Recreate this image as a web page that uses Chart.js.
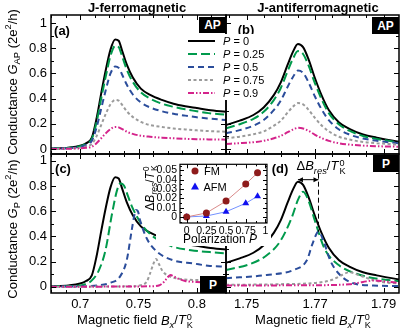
<!DOCTYPE html>
<html>
<head>
<meta charset="utf-8">
<script src="https://cdn.jsdelivr.net/npm/chart.js@4.4.1/dist/chart.umd.min.js"></script>
<style>
  body { margin: 0; background: #fff; }
  #fig { position: relative; width: 401px; height: 332px; overflow: hidden; font-family: "Liberation Sans", Arial, sans-serif; color: #000; }
  #fig canvas { position: absolute; left: 0; top: 0; }
  .t { position: absolute; white-space: nowrap; line-height: 1; transform: translate(-50%, -50%); }
  .rot { transform: translate(-50%, -50%) rotate(-90deg); }
  .b { font-weight: bold; font-size: 13px; }
  .box { position: absolute; background: #000; color: #fff; font-weight: bold; font-size: 12px; display: flex; align-items: center; justify-content: center; }
  sub, sup { font-size: 72%; line-height: 0; }
  .ss { display: inline-flex; flex-direction: column; font-size: 70%; line-height: 0.9; vertical-align: 0.5em; margin-left: 1px; }
  #inset { position: absolute; left: 156px; top: 155px; width: 115px; height: 91px; background: #fff; }
  #inset canvas { position: absolute; left: 0; top: 0; }
  #leg { position: absolute; left: 186px; top: 34px; width: 80px; height: 66px; background: #fff; }
</style>
</head>
<body>
<div id="fig">
  <canvas id="ca" width="401" height="332"></canvas>
  <canvas id="cb" width="401" height="332"></canvas>
  <canvas id="cc" width="401" height="332"></canvas>
  <canvas id="cd" width="401" height="332"></canvas>
  <div id="inset"><canvas id="ci" width="115" height="91"></canvas></div>

  <div class="t b" style="left:137px;top:7px">J-ferromagnetic</div>
  <div class="t b" style="left:318px;top:7px">J-antiferromagnetic</div>
  <div class="t rot" style="left:12px;top:82px;font-size:13px">Conductance <i>G</i><sub>AP</sub> (2e<sup>2</sup>/h)</div>
  <div class="t rot" style="left:12px;top:229px;font-size:13px">Conductance <i>G</i><sub>P</sub> (2e<sup>2</sup>/h)</div>
  <div class="t" style="left:135px;top:321px;font-size:13px">Magnetic field <i>B<sub>x</sub></i>/<i>T</i><span class="ss"><span>0</span><span>K</span></span></div>
  <div class="t" style="left:313px;top:321px;font-size:13px">Magnetic field <i>B<sub>x</sub></i>/<i>T</i><span class="ss"><span>0</span><span>K</span></span></div>

  <div class="t b" style="left:62px;top:30px">(a)</div>
  <div class="t b" style="left:246px;top:29px">(b)</div>
  <div class="t b" style="left:63px;top:168px">(c)</div>
  <div class="t b" style="left:280px;top:168px">(d)</div>

  <div class="box" style="left:199px;top:17px;width:27px;height:16px">AP</div>
  <div class="box" style="left:372px;top:17px;width:27px;height:17px">AP</div>
  <div class="box" style="left:200px;top:276px;width:26px;height:17px">P</div>
  <div class="box" style="left:373px;top:155px;width:26px;height:17px">P</div>

  <div class="t" style="left:321px;top:167px;font-size:13px">&Delta;<i>B</i><sub><i>res</i></sub>/<i>T</i><span class="ss"><span>0</span><span>K</span></span></div>

  <div class="t rot" style="left:151px;top:188px;font-size:12px">&Delta;<i>B</i><sub><i>res</i></sub>/<i>T</i><span class="ss"><span>0</span><span>K</span></span></div>
  <div class="t" style="left:220px;top:239px;font-size:12px">Polarization <i>P</i></div>
  <div id="insetLeg"></div>

  <div id="leg"></div>
</div>

<script>
const FONT = '"Liberation Sans", Arial, sans-serif';

// polarization values of the five curves
const polarization = [0, 0.25, 0.5, 0.75, 0.9];

// (a) J-ferromagnetic, AP configuration
const apFerroField = [0.675, 0.69, 0.70, 0.705, 0.71, 0.714, 0.718, 0.722, 0.726, 0.730, 0.733, 0.736, 0.740, 0.745, 0.752, 0.76, 0.77, 0.78, 0.79, 0.80, 0.81, 0.825];
const apFerroP0   = [0.003, 0.01, 0.025, 0.045, 0.09, 0.24, 0.44, 0.63, 0.79, 0.87, 0.86, 0.78, 0.67, 0.57, 0.48, 0.43, 0.39, 0.36, 0.34, 0.325, 0.31, 0.295];
const apFerroP25  = [0.003, 0.009, 0.022, 0.04, 0.08, 0.21, 0.40, 0.58, 0.74, 0.82, 0.81, 0.735, 0.63, 0.535, 0.45, 0.40, 0.36, 0.335, 0.315, 0.30, 0.285, 0.272];
const apFerroP50  = [0.002, 0.007, 0.017, 0.032, 0.065, 0.17, 0.32, 0.47, 0.60, 0.655, 0.645, 0.59, 0.51, 0.435, 0.37, 0.33, 0.30, 0.28, 0.265, 0.252, 0.242, 0.23];
const apFerroP75  = [0.001, 0.004, 0.01, 0.02, 0.04, 0.10, 0.19, 0.28, 0.355, 0.39, 0.385, 0.35, 0.30, 0.255, 0.215, 0.19, 0.175, 0.163, 0.155, 0.148, 0.142, 0.137];
const apFerroP90  = [0.0, 0.002, 0.005, 0.009, 0.018, 0.045, 0.085, 0.125, 0.158, 0.175, 0.172, 0.158, 0.137, 0.12, 0.105, 0.097, 0.09, 0.085, 0.081, 0.078, 0.076, 0.074];

// (b) J-antiferromagnetic, AP configuration
const apAntiField = [1.744, 1.748, 1.752, 1.755, 1.758, 1.760, 1.762, 1.7635, 1.765, 1.7665, 1.768, 1.770, 1.772, 1.774, 1.777, 1.780, 1.784, 1.788, 1.7945];
const apAntiP0    = [0.19, 0.225, 0.27, 0.33, 0.43, 0.53, 0.67, 0.77, 0.835, 0.81, 0.72, 0.56, 0.42, 0.31, 0.21, 0.16, 0.115, 0.09, 0.058];
const apAntiP25   = [0.165, 0.197, 0.24, 0.295, 0.39, 0.485, 0.62, 0.715, 0.778, 0.755, 0.67, 0.52, 0.39, 0.285, 0.195, 0.145, 0.103, 0.08, 0.052];
const apAntiP50   = [0.125, 0.15, 0.185, 0.23, 0.31, 0.385, 0.495, 0.57, 0.623, 0.605, 0.535, 0.415, 0.31, 0.23, 0.155, 0.115, 0.083, 0.065, 0.045];
const apAntiP75   = [0.085, 0.098, 0.117, 0.14, 0.185, 0.225, 0.29, 0.335, 0.365, 0.355, 0.315, 0.245, 0.185, 0.14, 0.097, 0.075, 0.056, 0.046, 0.035];
const apAntiP90   = [0.04, 0.046, 0.054, 0.065, 0.085, 0.104, 0.133, 0.154, 0.168, 0.163, 0.145, 0.113, 0.085, 0.064, 0.045, 0.035, 0.027, 0.022, 0.018];

// (c) J-ferromagnetic, P configuration (P = 0 is the same curve as in AP)
const pFerroField25 = [0.675, 0.69, 0.70, 0.705, 0.71, 0.716, 0.7217, 0.7274, 0.7317, 0.7345, 0.7375, 0.741, 0.7445, 0.7531, 0.7646, 0.779, 0.795, 0.8113, 0.825];
const pFerroP25     = [0.002, 0.005, 0.009, 0.022, 0.05, 0.13, 0.29, 0.585, 0.77, 0.82, 0.805, 0.72, 0.635, 0.49, 0.385, 0.32, 0.29, 0.275, 0.265];
const pFerroField50 = [0.675, 0.70, 0.715, 0.7256, 0.7341, 0.7399, 0.7442, 0.7465, 0.7479, 0.7495, 0.7513, 0.757, 0.7656, 0.7798, 0.797, 0.8113, 0.825];
const pFerroP50     = [0.0, 0.003, 0.01, 0.03, 0.08, 0.21, 0.45, 0.57, 0.61, 0.6, 0.53, 0.385, 0.28, 0.21, 0.185, 0.165, 0.16];
const pFerroField75 = [0.675, 0.74, 0.752, 0.757, 0.7599, 0.7627, 0.765, 0.7675, 0.7705, 0.7742, 0.7827, 0.80, 0.825];
const pFerroP75     = [0.0, 0.003, 0.012, 0.04, 0.105, 0.18, 0.22, 0.18, 0.125, 0.093, 0.066, 0.053, 0.05];
const pFerroField90 = [0.675, 0.76, 0.768, 0.772, 0.775, 0.7775, 0.7805, 0.785, 0.79, 0.80, 0.81, 0.825];
const pFerroP90     = [0.0, 0.003, 0.012, 0.04, 0.075, 0.093, 0.08, 0.06, 0.046, 0.037, 0.034, 0.032];

// (d) J-antiferromagnetic, P configuration
const pAntiField25 = [1.744, 1.751, 1.7559, 1.7598, 1.7632, 1.765, 1.7665, 1.768, 1.770, 1.7728, 1.777, 1.783, 1.789, 1.7945];
const pAntiP25     = [0.133, 0.18, 0.25, 0.36, 0.55, 0.69, 0.755, 0.69, 0.52, 0.30, 0.17, 0.095, 0.06, 0.045];
const pAntiField50 = [1.744, 1.7559, 1.7637, 1.7676, 1.7693, 1.771, 1.7724, 1.7744, 1.7773, 1.7812, 1.787, 1.7945];
const pAntiP50     = [0.067, 0.093, 0.133, 0.21, 0.345, 0.437, 0.37, 0.21, 0.093, 0.027, 0.01, 0.005];
const pAntiField75 = [1.744, 1.76, 1.771, 1.775, 1.778, 1.78, 1.782, 1.785, 1.789, 1.7945];
const pAntiP75     = [0.015, 0.02, 0.033, 0.055, 0.095, 0.115, 0.1, 0.07, 0.04, 0.025];
const pAntiField90 = [1.744, 1.77, 1.78, 1.784, 1.7873, 1.79, 1.7945];
const pAntiP90     = [0.01, 0.012, 0.02, 0.038, 0.05, 0.043, 0.03];

// inset: resonance shift vs polarization
const shiftFM  = [0, 0.0043, 0.017, 0.0353, 0.0474];
const shiftAFM = [0, 0.001, 0.0056, 0.0147, 0.0222];

// styles
const COLORS = ['#000000', '#009a4c', '#2b4d9b', '#9b9b9b', '#d4238b'];
const DASHES = [[], [9, 4], [6, 4], [3, 2.5], [6, 2, 1.5, 2, 1.5, 2]];

const isMult = (v, s) => Math.abs(v / s - Math.round(v / s)) < 1e-6;
const fmt = v => String(parseFloat(v.toFixed(4)));

function series(xs, ys, i) {
  return {
    label: 'P = ' + polarization[i],
    data: xs.map((x, k) => ({ x, y: ys[k] })),
    borderColor: COLORS[i],
    borderDash: DASHES[i],
    borderWidth: 2,
    pointRadius: 0,
    cubicInterpolationMode: 'monotone',
    order: 4 - i
  };
}

// border box with inward ticks on all four sides
const frame = {
  id: 'frame',
  afterDatasetsDraw(chart, args, opts) {
    const { ctx, chartArea: a } = chart;
    const x = chart.scales.x, y = chart.scales.y;
    const big = opts.big || 5, small = opts.small || 3;
    ctx.save();
    ctx.strokeStyle = '#000';
    ctx.lineWidth = 1;
    ctx.beginPath();
    x.ticks.forEach(t => {
      const p = Math.round(x.getPixelForValue(t.value)) + 0.5;
      const len = t.label !== '' ? big : small;
      ctx.moveTo(p, a.bottom); ctx.lineTo(p, a.bottom - len);
      ctx.moveTo(p, a.top); ctx.lineTo(p, a.top + len);
    });
    y.ticks.forEach(t => {
      const p = Math.round(y.getPixelForValue(t.value)) + 0.5;
      const len = t.label !== '' ? big : small;
      ctx.moveTo(a.left, p); ctx.lineTo(a.left + len, p);
      ctx.moveTo(a.right, p); ctx.lineTo(a.right - len, p);
    });
    ctx.stroke();
    ctx.lineWidth = opts.width || 1.5;
    ctx.strokeRect(a.left, a.top, a.right - a.left, a.bottom - a.top);
    ctx.restore();
  }
};

// double arrow between the P = 0 and P = 0.5 resonance peaks in (d)
const deltaArrow = {
  id: 'deltaArrow',
  afterDatasetsDraw(chart) {
    const { ctx, scales: { x, y } } = chart;
    const peak = d => d.data.reduce((m, p) => (p.y > m.y ? p : m));
    const p0 = peak(chart.data.datasets[0]), p2 = peak(chart.data.datasets[2]);
    const xa = x.getPixelForValue(p0.x), xb = x.getPixelForValue(p2.x);
    const ya = y.getPixelForValue(p0.y) - 2;
    ctx.save();
    ctx.strokeStyle = '#000';
    ctx.fillStyle = '#000';
    ctx.lineWidth = 1;
    ctx.setLineDash([5, 3]);
    ctx.beginPath();
    ctx.moveTo(xb, ya - 6);
    ctx.lineTo(xb, y.getPixelForValue(p2.y));
    ctx.stroke();
    ctx.setLineDash([]);
    ctx.beginPath();
    ctx.moveTo(xa, ya); ctx.lineTo(xb, ya);
    ctx.stroke();
    ctx.beginPath();
    ctx.moveTo(xa, ya); ctx.lineTo(xa + 5, ya - 2.5); ctx.lineTo(xa + 5, ya + 2.5); ctx.closePath();
    ctx.moveTo(xb, ya); ctx.lineTo(xb - 5, ya - 2.5); ctx.lineTo(xb - 5, ya + 2.5); ctx.closePath();
    ctx.fill();
    ctx.restore();
  }
};

function axis(pos, min, max, step, labelIf, show, size, fontSize, pad) {
  return {
    type: 'linear', position: pos, min, max,
    grid: { display: false, drawTicks: false },
    border: { display: false },
    ticks: {
      stepSize: step, includeBounds: false, autoSkip: false, maxRotation: 0,
      padding: pad || 4, color: show ? '#000' : 'rgba(0,0,0,0)',
      font: { family: FONT, size: fontSize || 13 },
      callback: v => (labelIf(v) ? fmt(v) : '')
    },
    afterFit: s => {
      if (pos === 'left') s.width = size; else s.height = size;
    }
  };
}

const ferroLabel = v => isMult(v, 0.05);
const antiLabel = v => isMult(v, 0.01) && Math.round(v * 100) % 2 === 1;
const condLabel = v => isMult(v, 0.2);

function panel(id, pad, datasets, xs, ys, extra) {
  return new Chart(document.getElementById(id), {
    type: 'line',
    data: { datasets },
    options: {
      responsive: false, animation: false, devicePixelRatio: 1,
      layout: { padding: pad },
      scales: { x: xs, y: ys },
      plugins: { legend: { display: false }, tooltip: { enabled: false }, frame: {} }
    },
    plugins: [frame].concat(extra || [])
  });
}

// (a)
panel('ca', { left: 11, top: 15, right: 175, bottom: 178 },
  [apFerroP0, apFerroP25, apFerroP50, apFerroP75, apFerroP90].map((ys, i) => series(apFerroField, ys, i)),
  axis('bottom', 0.675, 0.825, 0.0125, ferroLabel, false, 0),
  axis('left', -0.04, 1.065, 0.1, condLabel, true, 40));

// (b)
panel('cb', { left: 226, top: 15, right: 2, bottom: 178 },
  [apAntiP0, apAntiP25, apAntiP50, apAntiP75, apAntiP90].map((ys, i) => series(apAntiField, ys, i)),
  axis('bottom', 1.744, 1.7945, 0.005, antiLabel, false, 0),
  axis('left', -0.04, 1.065, 0.1, condLabel, false, 0));

// (c)
panel('cc', { left: 11, top: 154, right: 175, bottom: 9 },
  [series(apFerroField, apFerroP0, 0), series(pFerroField25, pFerroP25, 1), series(pFerroField50, pFerroP50, 2),
   series(pFerroField75, pFerroP75, 3), series(pFerroField90, pFerroP90, 4)],
  axis('bottom', 0.675, 0.825, 0.0125, ferroLabel, true, 30),
  axis('left', -0.05, 1.055, 0.1, condLabel, true, 40));

// (d)
panel('cd', { left: 226, top: 154, right: 2, bottom: 9 },
  [series(apAntiField, apAntiP0, 0), series(pAntiField25, pAntiP25, 1), series(pAntiField50, pAntiP50, 2),
   series(pAntiField75, pAntiP75, 3), series(pAntiField90, pAntiP90, 4)],
  axis('bottom', 1.744, 1.7945, 0.005, antiLabel, true, 30),
  axis('left', -0.05, 1.055, 0.1, condLabel, false, 0),
  [deltaArrow]);

// inset
new Chart(document.getElementById('ci'), {
  type: 'line',
  data: {
    datasets: [
      { label: 'FM', data: polarization.map((p, k) => ({ x: p, y: shiftFM[k] })),
        borderColor: '#d98a8a', borderWidth: 1, pointStyle: 'circle', pointRadius: 3.5,
        pointBackgroundColor: '#8e1b1b', pointBorderColor: '#8e1b1b', pointBorderWidth: 0, tension: 0 },
      { label: 'AFM', data: polarization.map((p, k) => ({ x: p, y: shiftAFM[k] })),
        borderColor: '#7391ff', borderWidth: 1, pointStyle: 'triangle', pointRadius: 4,
        pointBackgroundColor: '#1010f0', pointBorderColor: '#1010f0', pointBorderWidth: 0, tension: 0 }
    ]
  },
  options: {
    responsive: false, animation: false, devicePixelRatio: 1,
    layout: { padding: { left: 0, top: 4, right: 4, bottom: 5 } },
    scales: {
      x: axis('bottom', -0.085, 1.02, 0.125, v => isMult(v, 0.25), true, 18, 10.5, 2),
      y: axis('left', -0.0065, 0.0565, 0.005, v => isMult(v, 0.01), true, 24, 10.5, 3)
    },
    plugins: { legend: { display: false }, tooltip: { enabled: false }, frame: { big: 4, small: 2, width: 1.2 } }
  },
  plugins: [frame]
});

// main legend
const leg = document.getElementById('leg');
polarization.forEach((p, i) => {
  const row = document.createElement('div');
  row.style.cssText = 'position:absolute;left:0;top:' + (1 + 13.1 * i) + 'px;height:12px;display:flex;align-items:center;';
  const dash = DASHES[i].length ? DASHES[i].join(' ') : 'none';
  row.innerHTML = '<svg width="31" height="12"><line x1="2" y1="6" x2="29" y2="6" stroke="' + COLORS[i] +
    '" stroke-width="2" stroke-dasharray="' + dash + '"/></svg>' +
    '<span style="margin-left:6px;font-size:11px;line-height:1"><i>P</i> = ' + p + '</span>';
  leg.appendChild(row);
});

// inset legend
const il = document.getElementById('insetLeg');
il.innerHTML =
  '<svg style="position:absolute;left:190px;top:166px" width="10" height="26">' +
  '<circle cx="5" cy="5" r="3.5" fill="#8e1b1b"/>' +
  '<polygon points="5,16.5 9,23.5 1,23.5" fill="#1010f0"/></svg>' +
  '<div class="t" style="left:212px;top:171px;font-size:11px">FM</div>' +
  '<div class="t" style="left:215px;top:187px;font-size:11px">AFM</div>';
</script>
</body>
</html>
